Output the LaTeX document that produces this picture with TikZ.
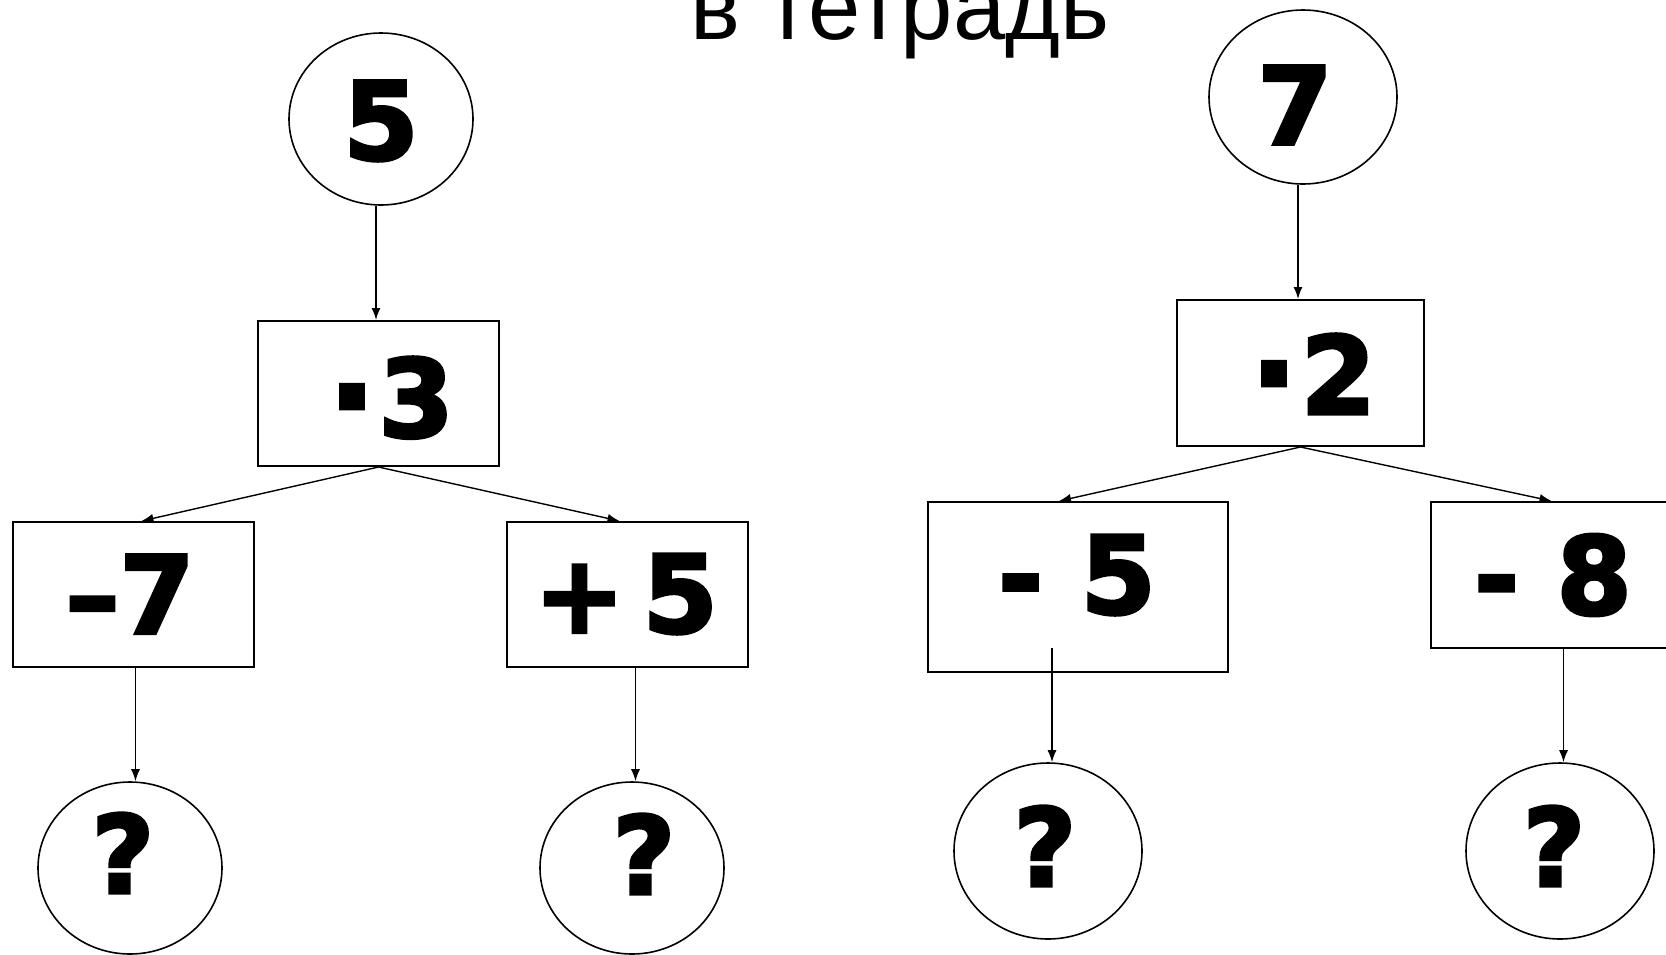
\documentclass[tikz,border=0pt]{standalone}
\usepackage{fontspec}
\setmainfont{Liberation Sans}
\newfontfamily\heavy[FakeBold=3]{DejaVu Sans Bold}
\newcommand\mydotx{\kern-10pt\raisebox{-3pt}{\fontsize{125}{125}\selectfont ·}\kern3pt}
\usetikzlibrary{shapes.geometric,arrows.meta}
\tikzset{
  oval/.style={draw, ellipse, line width=1.6pt, inner sep=0pt},
  opbox/.style={draw, rectangle, line width=2pt, inner sep=0pt},
  big/.style={inner sep=0pt, font=\heavy\fontsize{108}{120}\selectfont},
  arr/.style={line width=1.4pt, -{Latex[length=12pt,width=9pt]}},
}
\begin{document}
\begin{tikzpicture}[x=1pt,y=-1pt]
\useasboundingbox (0,0) rectangle (1666,954);
% title
\node[anchor=base, inner sep=0pt, font=\fontsize{94}{100}\selectfont] (title) at (900,39) {в тетрадь};
% left tree shapes
\node[oval, minimum width=184pt, minimum height=172pt] (c5) at (381,119) {};
\node[opbox, minimum width=241pt, minimum height=145pt] (b3) at (378.5,393.5) {};
\node[opbox, minimum width=241pt, minimum height=145pt] (bm7) at (133.5,594.5) {};
\node[opbox, minimum width=241pt, minimum height=145pt] (bp5) at (627.5,594.5) {};
\node[oval, minimum width=184pt, minimum height=172pt] (cq1) at (130,868) {};
\node[oval, minimum width=184pt, minimum height=172pt] (cq2) at (632,868) {};
% right tree shapes
\node[oval, minimum width=188pt, minimum height=174pt] (c7) at (1303,97) {};
\node[opbox, minimum width=247pt, minimum height=146pt] (b2) at (1300.5,373) {};
\node[opbox, minimum width=300pt, minimum height=170pt] (bm5) at (1078,587) {};
\node[opbox, minimum width=269pt, minimum height=146pt] (bm8) at (1565.5,575) {};
\node[oval, minimum width=188pt, minimum height=176pt] (cq3) at (1048,851) {};
\node[oval, minimum width=188pt, minimum height=176pt] (cq4) at (1560,851) {};
% texts
\node[big] (t5) at (381,121) {5};
\node[big, anchor=base east] (t3) at (454,437) {\mydotx3};
\node[big] (tm7) at (130,594) {–7};
\node[big] (tp5) at (626,594) {+\kern18pt5};
\node[big] (tq1) at (123,853) {?};
\node[big] (tq2) at (644,854) {?};
\node[big] (t7) at (1295,105) {7};
\node[big, anchor=base east] (t2) at (1376,414) {\mydotx2};
\node[big] (tm5) at (1077,575) {- 5};
\node[big] (tm8) at (1553,575) {- 8};
\node[big] (tq3) at (1045,846) {?};
\node[big] (tq4) at (1554,846) {?};
% connectors left
\draw[arr] ([xshift=-5]c5.south) -- ([xshift=-5]c5.south |- b3.north);
\draw[arr] (b3.south) -- ([xshift=8]bm7.north);
\draw[arr] (b3.south) -- ([xshift=-8]bp5.north);
\draw[arr] ([xshift=2]bm7.south) -- ([xshift=2]bm7.south |- cq1.north);
\draw[arr] ([xshift=8]bp5.south) -- ([xshift=8]bp5.south |- cq2.north);
% connectors right
\draw[arr] ([xshift=-5]c7.south) -- ([xshift=-5]c7.south |- b2.north);
\draw[arr] (b2.south) -- ([xshift=-19]bm5.north);
\draw[arr] (b2.south) -- ([xshift=-14]bm8.north);
\coordinate (s5) at (1052,648);
\draw[arr] (s5) -- (s5 |- cq3.north);
\draw[arr] ([xshift=-2]bm8.south) -- ([xshift=-2]bm8.south |- cq4.north);
\end{tikzpicture}
\end{document}
